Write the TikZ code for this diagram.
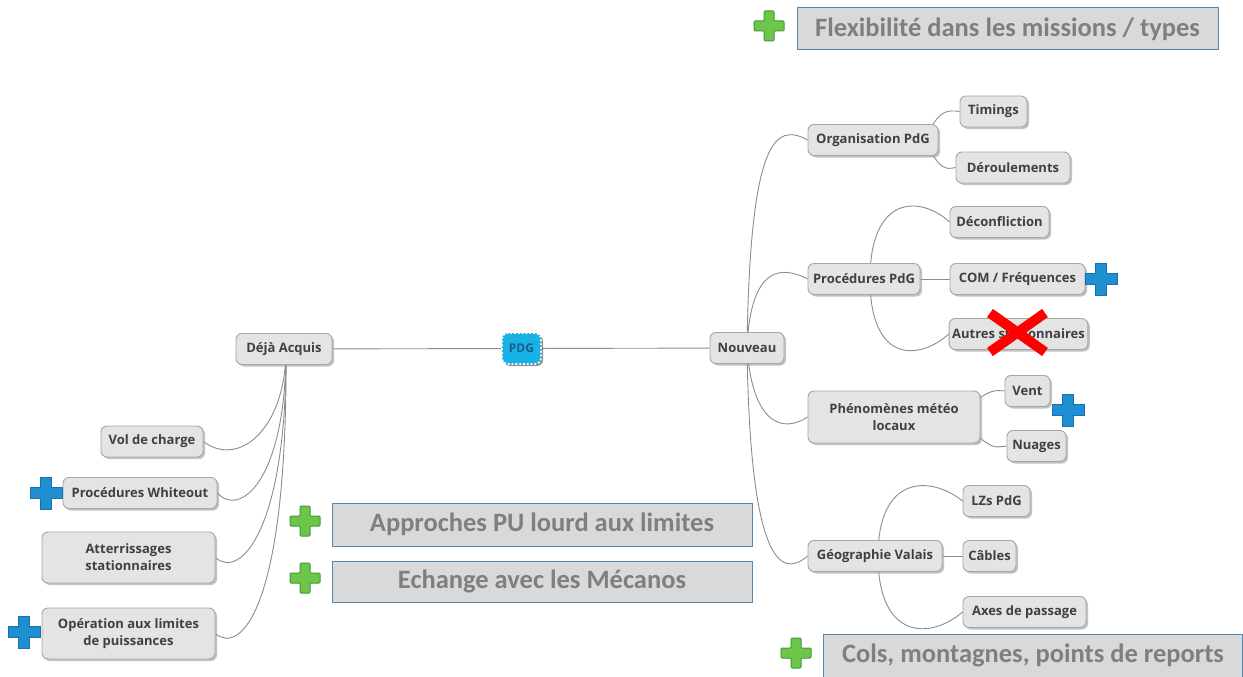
\documentclass[tikz,border=0pt]{standalone}
\usepackage{fontspec}
\setmainfont{Open Sans}
\newfontfamily\bigboxfont{Carlito}
\usetikzlibrary{shadows,backgrounds}
\definecolor{nodefill}{HTML}{E4E4E4}
\definecolor{nodeborder}{HTML}{A6A6A6}
\definecolor{nodetext}{HTML}{404040}
\definecolor{linkcol}{HTML}{8C8C8C}
\definecolor{boxfill}{HTML}{D9D9D9}
\definecolor{boxborder}{HTML}{5B86A8}
\definecolor{boxtext}{HTML}{7F7F7F}
\definecolor{plusgreen}{HTML}{6DC64A}
\definecolor{plusgreenb}{HTML}{3E9B3A}
\definecolor{plusblue}{HTML}{1F8FD2}
\definecolor{plusblueb}{HTML}{1873AD}
\definecolor{pdgcyan}{HTML}{19B2E6}
\definecolor{pdgtext}{HTML}{185F8A}
\tikzset{
  mm/.style={draw=nodeborder, fill=nodefill, rounded corners=6pt, line width=0.9pt,
    text=nodetext, font=\fontsize{13}{17}\selectfont\bfseries, minimum height=31pt,
    inner xsep=3pt, align=center,
    drop shadow={shadow xshift=2pt, shadow yshift=-2pt, fill=black!40, opacity=0.6}},
  bigbox/.style={draw=boxborder, fill=boxfill, line width=1pt, text=boxtext,
    font=\bigboxfont\fontsize{26.5}{30}\selectfont\bfseries, minimum width=420pt, minimum height=42pt},
  link/.style={draw=linkcol, line width=0.9pt},
  pics/gplus/.style={code={\filldraw[fill=plusgreen, draw=plusgreenb, line width=1pt, rounded corners=1pt]
    (-5,-15) -- (5,-15) -- (5,-5) -- (15,-5) -- (15,5) -- (5,5) -- (5,15) -- (-5,15) -- (-5,5) -- (-15,5) -- (-15,-5) -- (-5,-5) -- cycle;}},
  pics/bplus/.style={code={\filldraw[fill=plusblue, draw=plusblueb, line width=0.6pt]
    (-5.5,-16) -- (5.5,-16) -- (5.5,-5.5) -- (16,-5.5) -- (16,5.5) -- (5.5,5.5) -- (5.5,16) -- (-5.5,16) -- (-5.5,5.5) -- (-16,5.5) -- (-16,-5.5) -- (-5.5,-5.5) -- cycle;}},
}
\begin{document}
\begin{tikzpicture}[x=1pt,y=-1pt]
\useasboundingbox (0,0) rectangle (1243,677);

% central
\node[draw=white, dotted, line width=1.8pt, fill=pdgcyan, rounded corners=6pt, minimum width=39pt, minimum height=31pt,
  text=pdgtext, font=\fontsize{12}{14}\selectfont\bfseries, inner sep=2pt,
  drop shadow={shadow xshift=2pt, shadow yshift=-2pt, fill=black!85}] (pdg) at (521.5,348.5) {PDG};

\node[mm, minimum width=96pt] (deja) at (284,349) {Déjà Acquis};
\node[mm, minimum width=74pt] (nouv) at (747,348) {Nouveau};

% right side
\node[mm, minimum width=130pt] (org) at (873,140) {Organisation PdG};
\node[mm, minimum width=67pt] (tim) at (993.5,111.5) {Timings};
\node[mm, minimum width=114pt] (der) at (1013,167.5) {Déroulements};
\node[mm, minimum width=99pt] (dec) at (999.5,222) {Déconfliction};
\node[mm, minimum width=112pt] (proc) at (864,279) {Procédures PdG};
\node[mm, minimum width=135pt] (com) at (1017.5,279) {COM / Fréquences};
\node[mm, minimum width=137pt] (aut) at (1018.5,334) {Autres stationnaires};
\node[mm, minimum width=172pt, minimum height=52pt] (phen) at (894,417) {Phénomènes météo\\locaux};
\node[mm, minimum width=45pt] (vent) at (1027.5,391) {Vent};
\node[mm, minimum width=59pt] (nua) at (1036.5,446) {Nuages};
\node[mm, minimum width=134pt] (geo) at (875,556) {Géographie Valais};
\node[mm, minimum width=67pt] (lzs) at (996.5,501) {LZs PdG};
\node[mm, minimum width=53pt] (cab) at (989.5,556) {Câbles};
\node[mm, minimum width=123pt] (axe) at (1024.5,612) {Axes de passage};

% left side
\node[mm, minimum width=102pt] (vol) at (152,441.5) {Vol de charge};
\node[mm, minimum width=154pt] (whi) at (140,493) {Procédures Whiteout};
\node[mm, minimum width=173pt, minimum height=51pt] (att) at (128.5,557.5) {Atterrissages\\stationnaires};
\node[mm, minimum width=173pt, minimum height=51pt] (ope) at (128.5,633.5) {Opération aux limites\\de puissances};

% big boxes
\node[bigbox, minimum width=421pt] (flex) at (1007.5,29) {Flexibilité dans les missions / types};
\node[bigbox, minimum height=43pt] (appr) at (542,524.5) {Approches PU lourd aux limites};
\node[bigbox, minimum height=41pt] (ech) at (542,581.5) {Echange avec les Mécanos};
\node[bigbox, minimum width=419pt, minimum height=43pt] (cols) at (1033,655.5) {Cols, montagnes, points de reports};

% connectors
\begin{scope}[on background layer]
\draw[link] (pdg) -- (deja);
\draw[link] (pdg) -- (nouv);
\draw[link] (nouv.center) .. controls (750,140) and (775,122) .. (org.west);
\draw[link] (nouv.center) .. controls (750,275) and (775,262) .. (proc.west);
\draw[link] (nouv.center) .. controls (752,420) and (780,435) .. (phen.west);
\draw[link] (nouv.center) .. controls (750,560) and (780,580) .. (geo.west);
\draw[link] (org.center) ++(57,-10) .. controls (940,110) and (948,110) .. (tim.west);
\draw[link] (org.center) ++(57,10) .. controls (940,168) and (945,170) .. (der.west);
\draw[link] (proc.center) ++(6,0) .. controls (870,195) and (920,195) .. (dec.west);
\draw[link] (proc) -- (com);
\draw[link] (proc.center) ++(6,0) .. controls (870,365) and (920,360) .. (aut.west);
\draw[link] (phen.center) ++(80,-15) .. controls (990,390) and (995,390) .. (vent.west);
\draw[link] (phen.center) ++(80,15) .. controls (990,448) and (995,448) .. (nua.west);
\draw[link] (geo.center) ++(3,0) .. controls (878,475) and (930,475) .. (lzs.west);
\draw[link] (geo) -- (cab);
\draw[link] (geo.center) ++(3,0) .. controls (878,640) and (930,640) .. (axe.west);
\draw[link] (deja.center) ++(2,0) .. controls (286,430) and (238,468) .. (vol.east);
\draw[link] (deja.center) ++(2,0) .. controls (286,480) and (240,518) .. (whi.east);
\draw[link] (deja.center) ++(2,0) .. controls (287,530) and (240,580) .. (att.east);
\draw[link] (deja.center) ++(2,0) .. controls (288,610) and (240,655) .. (ope.east);
\end{scope}

% red cross
\draw[red, line width=10pt] (990,313) -- (1045,352);
\draw[red, line width=10pt] (990,352) -- (1045,313);

% plus signs
\pic (g1) at (769,26) {gplus};
\pic (g2) at (305,521) {gplus};
\pic (g3) at (305,578) {gplus};
\pic (g4) at (796,653) {gplus};
\pic (b1) at (1101,279) {bplus};
\pic (b2) at (1068,410) {bplus};
\pic (b3) at (46,493) {bplus};
\pic (b4) at (24,632) {bplus};
\end{tikzpicture}
\end{document}
